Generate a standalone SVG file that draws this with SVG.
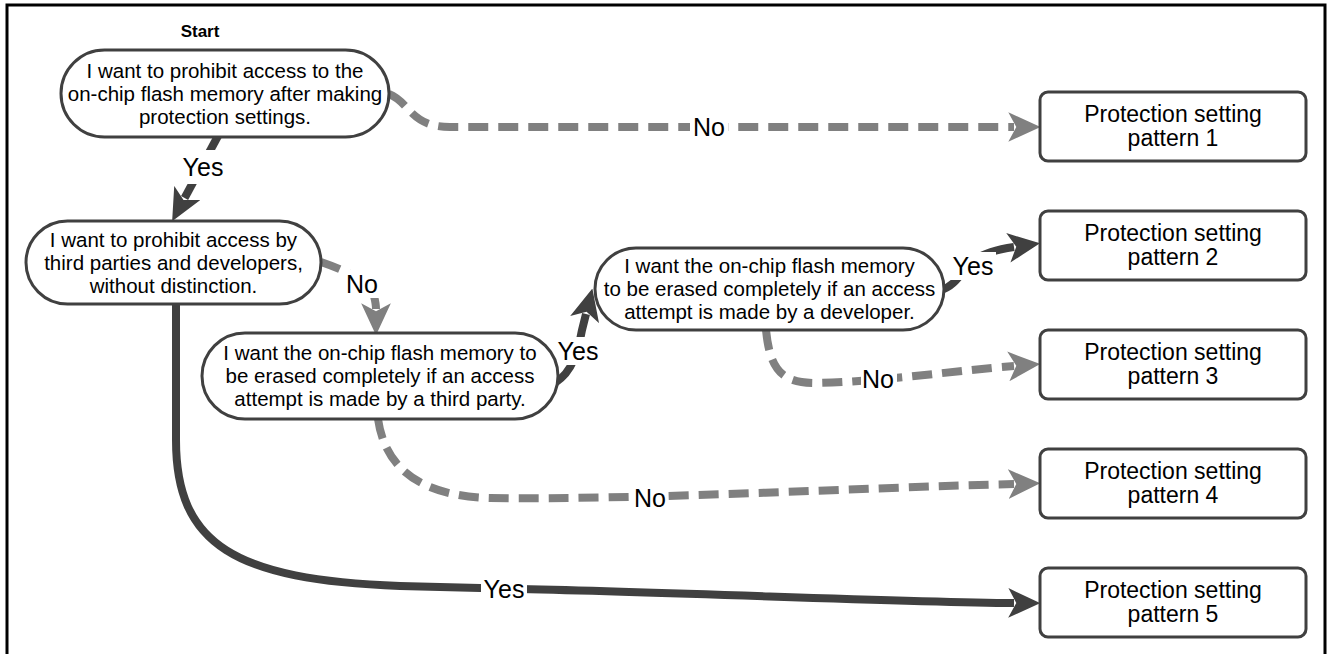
<svg xmlns="http://www.w3.org/2000/svg" width="1328" height="654" viewBox="0 0 1328 654">
<style>
.node{fill:#fff;stroke:#404040;stroke-width:3}
.nt{font-family:"Liberation Sans",Arial,sans-serif;font-size:20.5px;fill:#000;text-anchor:middle}
.bt{font-family:"Liberation Sans",Arial,sans-serif;font-size:23px;fill:#000;text-anchor:middle}
.lbl{font-family:"Liberation Sans",Arial,sans-serif;font-size:25px;fill:#000;text-anchor:middle}
.yes{fill:none;stroke:#404040;stroke-width:8}
.no{fill:none;stroke:#808080;stroke-width:8;stroke-dasharray:20 10}
.bg{fill:#fff}
</style>
<defs>
<marker id="ad" markerUnits="userSpaceOnUse" markerWidth="32" markerHeight="30" viewBox="0 0 28 26" refX="5" refY="13" orient="auto"><path d="M0,0 L28,13 L0,26 L7,13 z" fill="#404040"/></marker>
<marker id="ag" markerUnits="userSpaceOnUse" markerWidth="32" markerHeight="30" viewBox="0 0 28 26" refX="5" refY="13" orient="auto"><path d="M0,0 L28,13 L0,26 L7,13 z" fill="#808080"/></marker>
</defs>
<rect width="1328" height="654" fill="#fff"/>
<path d="M7,654 V5 H1325 V654" fill="none" stroke="#000" stroke-width="3"/>

<g id="connectors">
<path class="no" d="M389,94 C410,102 410,127 450,127 L1014,127" marker-end="url(#ag)"/>
<path class="yes" d="M218,136 L184.6,198" marker-end="url(#ad)"/>
<path class="no" d="M321,262 C350,272 372,284 374,296 C375,300 376,304 376,309" stroke-dasharray="none" marker-end="url(#ag)"/>
<path class="yes" d="M556,382 C572,372 578,352 582,330 L586,314" marker-end="url(#ad)"/>
<path class="yes" d="M941,290 C958,285 962,268 975,260 C985,252 1000,249 1014,247" marker-end="url(#ad)"/>
<path class="no" d="M766,330 C770,370 782,383 815,383 C880,382 960,370 1014,366" marker-end="url(#ag)"/>
<path class="no" d="M378,419 C385,468 420,496 490,498 C650,500 850,488 1014,484" marker-end="url(#ag)"/>
<path class="yes" d="M176,304 L176,440 C176,545 235,580 400,586 L520,589 C700,593 900,602 1014,603" marker-end="url(#ad)"/>
<rect class="bg" x="690" y="114" width="38" height="26"/>
<text class="lbl" x="709" y="136">No</text>
<rect class="bg" x="180" y="150" width="46" height="34"/>
<text class="lbl" x="203" y="176">Yes</text>
<rect class="bg" x="344" y="270" width="36" height="28"/>
<text class="lbl" x="362" y="293">No</text>
<rect class="bg" x="555" y="337" width="46" height="28"/>
<text class="lbl" x="578" y="360">Yes</text>
<rect class="bg" x="950" y="252" width="46" height="28"/>
<text class="lbl" x="973" y="275">Yes</text>
<rect class="bg" x="861" y="366" width="36" height="26"/>
<text class="lbl" x="878" y="388">No</text>
<rect class="bg" x="632" y="485" width="36" height="26"/>
<text class="lbl" x="650" y="507">No</text>
<rect class="bg" x="481" y="576" width="46" height="26"/>
<text class="lbl" x="504" y="598">Yes</text>
</g>

<g id="start">
<text x="200" y="37" font-family="Liberation Sans, Arial, sans-serif" font-size="17" font-weight="bold" text-anchor="middle">Start</text>
</g>

<g id="nodeA">
<rect class="node" x="61" y="50" width="328" height="87" rx="43.5"/>
<text class="nt" x="225" y="78">I want to prohibit access to the</text>
<text class="nt" x="225" y="101">on-chip flash memory after making</text>
<text class="nt" x="225" y="124">protection settings.</text>
</g>

<g id="nodeB">
<rect class="node" x="26" y="221" width="295" height="83" rx="41.5"/>
<text class="nt" x="173.5" y="247">I want to prohibit access by</text>
<text class="nt" x="173.5" y="270">third parties and developers,</text>
<text class="nt" x="173.5" y="293">without distinction.</text>
</g>

<g id="nodeC">
<rect class="node" x="202" y="333" width="356" height="86" rx="43"/>
<text class="nt" x="380" y="360">I want the on-chip flash memory to</text>
<text class="nt" x="380" y="383">be erased completely if an access</text>
<text class="nt" x="380" y="406">attempt is made by a third party.</text>
</g>

<g id="nodeD">
<rect class="node" x="595" y="248" width="349" height="82" rx="41"/>
<text class="nt" x="769.5" y="273">I want the on-chip flash memory</text>
<text class="nt" x="769.5" y="296">to be erased completely if an access</text>
<text class="nt" x="769.5" y="319">attempt is made by a developer.</text>
</g>

<g id="p1">
<rect class="node" x="1040" y="92" width="266" height="69" rx="8"/>
<text class="bt" x="1173" y="122">Protection setting</text>
<text class="bt" x="1173" y="146">pattern 1</text>
</g>
<g id="p2">
<rect class="node" x="1040" y="211" width="266" height="69" rx="8"/>
<text class="bt" x="1173" y="241">Protection setting</text>
<text class="bt" x="1173" y="265">pattern 2</text>
</g>
<g id="p3">
<rect class="node" x="1040" y="330" width="266" height="69" rx="8"/>
<text class="bt" x="1173" y="360">Protection setting</text>
<text class="bt" x="1173" y="384">pattern 3</text>
</g>
<g id="p4">
<rect class="node" x="1040" y="449" width="266" height="69" rx="8"/>
<text class="bt" x="1173" y="479">Protection setting</text>
<text class="bt" x="1173" y="503">pattern 4</text>
</g>
<g id="p5">
<rect class="node" x="1040" y="568" width="266" height="69" rx="8"/>
<text class="bt" x="1173" y="598">Protection setting</text>
<text class="bt" x="1173" y="622">pattern 5</text>
</g>
</svg>
